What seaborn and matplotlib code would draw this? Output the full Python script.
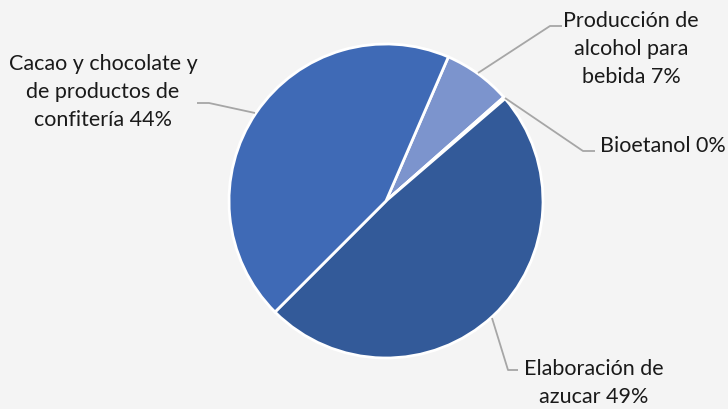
import matplotlib

matplotlib.use("Agg")
import matplotlib.pyplot as plt
import seaborn as sns

# datos (% de participación)
categorias = [
    "Producción de\nalcohol para\nbebida",
    "Bioetanol",
    "Elaboración de\nazucar",
    "Cacao y chocolate y\nde productos de\nconfitería",
]
valores = [7.0, 0.2, 48.8, 44.0]
colores = ["#7c94cd", "#3a64ad", "#335a99", "#3f6ab6"]

W, H = 728, 409
BG = "#f4f4f4"

sns.set_style("white")
plt.rcParams["font.family"] = ["Lato", "DejaVu Sans"]

fig = plt.figure(figsize=(W / 100, H / 100), dpi=100, facecolor=BG)
ax = fig.add_axes([0, 0, 1, 1])
ax.set_facecolor(BG)

cx, cy, r = 386, H - 201, 157
ax.pie(
    valores,
    colors=colores,
    startangle=90 - 23.4,
    counterclock=False,
    center=(cx, cy),
    radius=r,
    wedgeprops={"edgecolor": "white", "linewidth": 2.0},
    frame=True,
)
ax.set_xlim(0, W)
ax.set_ylim(0, H)
ax.axis("off")

etiquetas = [f"{c} {round(v)}%" for c, v in zip(categorias, valores)]

# líneas guía (coordenadas en píxeles desde arriba)
guias = [
    [(478, 73), (550, 26), (562, 26)],
    [(505, 98), (583, 151), (595, 151)],
    [(492, 318), (508, 370), (518, 370)],
    [(255, 113), (209, 103), (197, 103)],
]
pos_texto = [(631, 49), (663, 146), (594, 383), (103, 92)]

for g in guias:
    xs = [p[0] for p in g]
    ys = [H - p[1] for p in g]
    ax.plot(xs, ys, color="#a6a6a6", lw=1.3, solid_capstyle="butt")

for txt, (x, y) in zip(etiquetas, pos_texto):
    ax.text(x, H - y, txt, ha="center", va="center", fontsize=15.5,
            color="#1a1a1a", linespacing=1.5)

fig.savefig("out.png", dpi=100, facecolor=BG)
